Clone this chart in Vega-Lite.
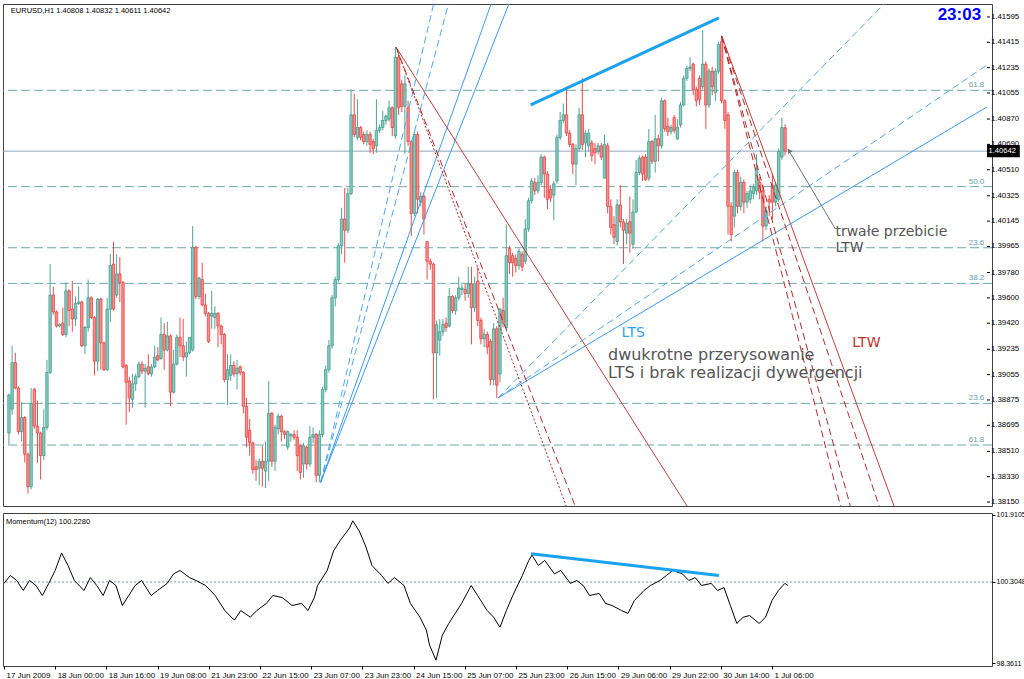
{
"$schema": "https://vega.github.io/schema/vega-lite/v6.json",
"padding": {"left": 2, "top": 3, "right": 0, "bottom": 0},
"background": "#ffffff",
"spacing": 3,
"config": {"view": {"stroke": "#404040", "strokeWidth": 1}, "font": "Liberation Sans", "axis": {"labelOverlap": false, "labelFlush": false, "grid": false, "title": null}},
"datasets": {
"candles": [
{"i":0,"o":1.3864,"h":1.3892,"l":1.3856,"c":1.3891},{"i":1,"o":1.3881,"h":1.3926,"l":1.3877,"c":1.3914},{"i":2,"o":1.3914,"h":1.3921,"l":1.3895,"c":1.3896},{"i":3,"o":1.3896,"h":1.3897,"l":1.3863,"c":1.3865},{"i":4,"o":1.3865,"h":1.3886,"l":1.3858,"c":1.3875},{"i":5,"o":1.3875,"h":1.3876,"l":1.3843,"c":1.3849},{"i":6,"o":1.3849,"h":1.385,"l":1.3821,"c":1.3826},{"i":7,"o":1.3826,"h":1.3896,"l":1.3824,"c":1.3885},{"i":8,"o":1.3895,"h":1.3896,"l":1.3867,"c":1.3869},{"i":9,"o":1.3869,"h":1.3887,"l":1.3843,"c":1.3864},
{"i":10,"o":1.3864,"h":1.3865,"l":1.3831,"c":1.3848},{"i":11,"o":1.3848,"h":1.3881,"l":1.3845,"c":1.3868},{"i":12,"o":1.3868,"h":1.3916,"l":1.3866,"c":1.3907},{"i":13,"o":1.3907,"h":1.3984,"l":1.3906,"c":1.3962},{"i":14,"o":1.3962,"h":1.3968,"l":1.3948,"c":1.395},{"i":15,"o":1.395,"h":1.3951,"l":1.3939,"c":1.394},{"i":16,"o":1.394,"h":1.3942,"l":1.3939,"c":1.3941},{"i":17,"o":1.3942,"h":1.3953,"l":1.3933,"c":1.3934},{"i":18,"o":1.3934,"h":1.3971,"l":1.3932,"c":1.3965},{"i":19,"o":1.3965,"h":1.3966,"l":1.394,"c":1.3951},
{"i":20,"o":1.3952,"h":1.3972,"l":1.3936,"c":1.3945},{"i":21,"o":1.3945,"h":1.3961,"l":1.394,"c":1.3956},{"i":22,"o":1.3956,"h":1.3968,"l":1.3955,"c":1.3957},{"i":23,"o":1.3957,"h":1.3958,"l":1.3925,"c":1.3926},{"i":24,"o":1.3926,"h":1.394,"l":1.392,"c":1.3939},{"i":25,"o":1.3939,"h":1.3973,"l":1.3936,"c":1.396},{"i":26,"o":1.396,"h":1.3961,"l":1.3945,"c":1.3946},{"i":27,"o":1.3946,"h":1.3947,"l":1.3905,"c":1.3915},{"i":28,"o":1.3915,"h":1.396,"l":1.3908,"c":1.3959},{"i":29,"o":1.3959,"h":1.396,"l":1.3909,"c":1.3928},
{"i":30,"o":1.3928,"h":1.3929,"l":1.3908,"c":1.3909},{"i":31,"o":1.3909,"h":1.396,"l":1.3908,"c":1.3952},{"i":32,"o":1.3952,"h":1.3991,"l":1.3943,"c":1.3983},{"i":33,"o":1.3984,"h":1.4,"l":1.3951,"c":1.3952},{"i":34,"o":1.3962,"h":1.3991,"l":1.396,"c":1.3977},{"i":35,"o":1.3977,"h":1.3989,"l":1.3957,"c":1.3971},{"i":36,"o":1.3971,"h":1.3972,"l":1.391,"c":1.3911},{"i":37,"o":1.3912,"h":1.3913,"l":1.387,"c":1.39},{"i":38,"o":1.3901,"h":1.3904,"l":1.3879,"c":1.3889},{"i":39,"o":1.3888,"h":1.3906,"l":1.3882,"c":1.3899},
{"i":40,"o":1.3899,"h":1.3906,"l":1.3894,"c":1.3904},{"i":41,"o":1.3904,"h":1.3915,"l":1.3903,"c":1.3913},{"i":42,"o":1.3913,"h":1.3915,"l":1.3906,"c":1.3908},{"i":43,"o":1.3908,"h":1.3913,"l":1.3882,"c":1.391},{"i":44,"o":1.3911,"h":1.392,"l":1.3905,"c":1.3906},{"i":45,"o":1.3906,"h":1.3913,"l":1.3904,"c":1.3911},{"i":46,"o":1.3911,"h":1.3926,"l":1.391,"c":1.3918},{"i":47,"o":1.3919,"h":1.3925,"l":1.3915,"c":1.3916},{"i":48,"o":1.3917,"h":1.3946,"l":1.3916,"c":1.3934},{"i":49,"o":1.3934,"h":1.3942,"l":1.3909,"c":1.3923},
{"i":50,"o":1.3923,"h":1.3943,"l":1.3922,"c":1.3933},{"i":51,"o":1.3933,"h":1.3934,"l":1.3883,"c":1.3893},{"i":52,"o":1.3893,"h":1.3923,"l":1.3892,"c":1.3913},{"i":53,"o":1.3913,"h":1.3934,"l":1.3912,"c":1.3932},{"i":54,"o":1.3932,"h":1.3946,"l":1.3918,"c":1.3926},{"i":55,"o":1.3926,"h":1.3945,"l":1.3915,"c":1.3918},{"i":56,"o":1.3918,"h":1.3929,"l":1.3904,"c":1.3921},{"i":57,"o":1.3921,"h":1.3932,"l":1.392,"c":1.3932},{"i":58,"o":1.3923,"h":1.4011,"l":1.3922,"c":1.3996},{"i":59,"o":1.3996,"h":1.3997,"l":1.3959,"c":1.3961},
{"i":60,"o":1.3961,"h":1.3975,"l":1.3959,"c":1.3974},{"i":61,"o":1.3973,"h":1.3985,"l":1.3954,"c":1.3955},{"i":62,"o":1.3955,"h":1.3963,"l":1.3947,"c":1.3949},{"i":63,"o":1.3949,"h":1.395,"l":1.3928,"c":1.3929},{"i":64,"o":1.3947,"h":1.3965,"l":1.3938,"c":1.3949},{"i":65,"o":1.3946,"h":1.3954,"l":1.3938,"c":1.3949},{"i":66,"o":1.3949,"h":1.395,"l":1.3925,"c":1.394},{"i":67,"o":1.394,"h":1.3941,"l":1.3927,"c":1.3934},{"i":68,"o":1.3934,"h":1.3935,"l":1.39,"c":1.3902},{"i":69,"o":1.3902,"h":1.392,"l":1.3884,"c":1.3909},
{"i":70,"o":1.3905,"h":1.392,"l":1.3901,"c":1.3912},{"i":71,"o":1.3912,"h":1.3915,"l":1.3904,"c":1.3906},{"i":72,"o":1.3906,"h":1.3916,"l":1.3895,"c":1.391},{"i":73,"o":1.3911,"h":1.3912,"l":1.3905,"c":1.3907},{"i":74,"o":1.3907,"h":1.3908,"l":1.3878,"c":1.3883},{"i":75,"o":1.3883,"h":1.3889,"l":1.3854,"c":1.3861},{"i":76,"o":1.3866,"h":1.3874,"l":1.3848,"c":1.3857},{"i":77,"o":1.3857,"h":1.3858,"l":1.3835,"c":1.3838},{"i":78,"o":1.384,"h":1.3845,"l":1.383,"c":1.3838},{"i":79,"o":1.3839,"h":1.3846,"l":1.3827,"c":1.3844},
{"i":80,"o":1.3844,"h":1.3855,"l":1.3826,"c":1.3839},{"i":81,"o":1.3837,"h":1.3858,"l":1.3825,"c":1.3844},{"i":82,"o":1.3844,"h":1.3901,"l":1.383,"c":1.3878},{"i":83,"o":1.3878,"h":1.3879,"l":1.384,"c":1.3844},{"i":84,"o":1.3844,"h":1.387,"l":1.3837,"c":1.3868},{"i":85,"o":1.3867,"h":1.3878,"l":1.3863,"c":1.3876},{"i":86,"o":1.3876,"h":1.3877,"l":1.3858,"c":1.3865},{"i":87,"o":1.3865,"h":1.3866,"l":1.386,"c":1.3863},{"i":88,"o":1.3854,"h":1.3866,"l":1.3852,"c":1.3865},{"i":89,"o":1.3862,"h":1.3864,"l":1.3858,"c":1.3863},
{"i":90,"o":1.3863,"h":1.3866,"l":1.3859,"c":1.3861},{"i":91,"o":1.3861,"h":1.3866,"l":1.3837,"c":1.3848},{"i":92,"o":1.3855,"h":1.3856,"l":1.3831,"c":1.3836},{"i":93,"o":1.3842,"h":1.3857,"l":1.3832,"c":1.3855},{"i":94,"o":1.3854,"h":1.3855,"l":1.3838,"c":1.3842},{"i":95,"o":1.3842,"h":1.3869,"l":1.384,"c":1.3861},{"i":96,"o":1.3861,"h":1.3868,"l":1.3857,"c":1.3863},{"i":97,"o":1.3863,"h":1.3864,"l":1.3829,"c":1.3834},{"i":98,"o":1.3834,"h":1.3866,"l":1.3829,"c":1.3863},{"i":99,"o":1.3863,"h":1.3897,"l":1.3861,"c":1.3895},
{"i":100,"o":1.3895,"h":1.3912,"l":1.3893,"c":1.3909},{"i":101,"o":1.3909,"h":1.393,"l":1.3907,"c":1.3926},{"i":102,"o":1.3926,"h":1.3962,"l":1.3924,"c":1.396},{"i":103,"o":1.396,"h":1.3975,"l":1.3954,"c":1.3973},{"i":104,"o":1.3973,"h":1.3999,"l":1.3971,"c":1.3997},{"i":105,"o":1.3997,"h":1.4024,"l":1.3991,"c":1.4016},{"i":106,"o":1.4016,"h":1.4038,"l":1.3985,"c":1.4008},{"i":107,"o":1.4008,"h":1.4038,"l":1.4006,"c":1.4034},{"i":108,"o":1.4034,"h":1.4108,"l":1.4033,"c":1.409},{"i":109,"o":1.409,"h":1.4105,"l":1.4074,"c":1.4076},
{"i":110,"o":1.4074,"h":1.4101,"l":1.4072,"c":1.4081},{"i":111,"o":1.4081,"h":1.4082,"l":1.4072,"c":1.4074},{"i":112,"o":1.4076,"h":1.4078,"l":1.4069,"c":1.4071},{"i":113,"o":1.4071,"h":1.4079,"l":1.4068,"c":1.4076},{"i":114,"o":1.4076,"h":1.4078,"l":1.4063,"c":1.4069},{"i":115,"o":1.4071,"h":1.4073,"l":1.4062,"c":1.4066},{"i":116,"o":1.4068,"h":1.4101,"l":1.4063,"c":1.4079},{"i":117,"o":1.4079,"h":1.4083,"l":1.4077,"c":1.4081},{"i":118,"o":1.4081,"h":1.4093,"l":1.4079,"c":1.4086},{"i":119,"o":1.4086,"h":1.409,"l":1.4083,"c":1.4089},
{"i":120,"o":1.4087,"h":1.41,"l":1.4085,"c":1.4095},{"i":121,"o":1.4095,"h":1.4096,"l":1.4075,"c":1.4081},{"i":122,"o":1.4075,"h":1.4138,"l":1.4073,"c":1.4131},{"i":123,"o":1.4131,"h":1.4133,"l":1.409,"c":1.4095},{"i":124,"o":1.4112,"h":1.4115,"l":1.4092,"c":1.4096},{"i":125,"o":1.4096,"h":1.4118,"l":1.4062,"c":1.4112},{"i":126,"o":1.4095,"h":1.41,"l":1.4068,"c":1.4071},{"i":127,"o":1.4071,"h":1.4072,"l":1.4004,"c":1.402},{"i":128,"o":1.402,"h":1.4078,"l":1.4018,"c":1.4076},{"i":129,"o":1.4076,"h":1.4078,"l":1.402,"c":1.403},
{"i":130,"o":1.4028,"h":1.4035,"l":1.4025,"c":1.4032},{"i":131,"o":1.4032,"h":1.4034,"l":1.4005,"c":1.4016},{"i":132,"o":1.4,"h":1.4,"l":1.3973,"c":1.3986},{"i":133,"o":1.3986,"h":1.3988,"l":1.398,"c":1.3984},{"i":134,"o":1.3984,"h":1.3985,"l":1.3888,"c":1.3921},{"i":135,"o":1.3921,"h":1.3944,"l":1.3889,"c":1.3941},{"i":136,"o":1.393,"h":1.3945,"l":1.3919,"c":1.3936},{"i":137,"o":1.3936,"h":1.3945,"l":1.3933,"c":1.3941},{"i":138,"o":1.3942,"h":1.3946,"l":1.3936,"c":1.3939},{"i":139,"o":1.394,"h":1.3967,"l":1.3939,"c":1.3961},
{"i":140,"o":1.3961,"h":1.3962,"l":1.3949,"c":1.3951},{"i":141,"o":1.3951,"h":1.3962,"l":1.3948,"c":1.396},{"i":142,"o":1.396,"h":1.3975,"l":1.3958,"c":1.3967},{"i":143,"o":1.3966,"h":1.3971,"l":1.3962,"c":1.3967},{"i":144,"o":1.3966,"h":1.397,"l":1.3958,"c":1.3963},{"i":145,"o":1.3963,"h":1.3982,"l":1.396,"c":1.397},{"i":146,"o":1.397,"h":1.3982,"l":1.3927,"c":1.3953},{"i":147,"o":1.3953,"h":1.3975,"l":1.395,"c":1.397},{"i":148,"o":1.3972,"h":1.3982,"l":1.394,"c":1.3944},{"i":149,"o":1.3944,"h":1.3946,"l":1.3927,"c":1.3931},
{"i":150,"o":1.3931,"h":1.3938,"l":1.3925,"c":1.3934},{"i":151,"o":1.3934,"h":1.3936,"l":1.392,"c":1.3925},{"i":152,"o":1.3929,"h":1.3931,"l":1.3898,"c":1.3902},{"i":153,"o":1.3902,"h":1.3942,"l":1.3898,"c":1.3938},{"i":154,"o":1.3938,"h":1.394,"l":1.3889,"c":1.3898},{"i":155,"o":1.3906,"h":1.3953,"l":1.39,"c":1.3952},{"i":156,"o":1.3951,"h":1.396,"l":1.3939,"c":1.3942},{"i":157,"o":1.3939,"h":1.4012,"l":1.3936,"c":1.399},{"i":158,"o":1.3995,"h":1.3997,"l":1.3977,"c":1.3985},{"i":159,"o":1.399,"h":1.3992,"l":1.3975,"c":1.3985},
{"i":160,"o":1.3988,"h":1.3991,"l":1.3978,"c":1.3983},{"i":161,"o":1.3983,"h":1.3995,"l":1.398,"c":1.3993},{"i":162,"o":1.3991,"h":1.3993,"l":1.3979,"c":1.3982},{"i":163,"o":1.3986,"h":1.4016,"l":1.3984,"c":1.4009},{"i":164,"o":1.4009,"h":1.4031,"l":1.4007,"c":1.4029},{"i":165,"o":1.4029,"h":1.4045,"l":1.4027,"c":1.4043},{"i":166,"o":1.4042,"h":1.4045,"l":1.4033,"c":1.4036},{"i":167,"o":1.4036,"h":1.4047,"l":1.4034,"c":1.4042},{"i":168,"o":1.4042,"h":1.4062,"l":1.404,"c":1.406},{"i":169,"o":1.406,"h":1.4061,"l":1.4031,"c":1.4048},
{"i":170,"o":1.4048,"h":1.405,"l":1.4023,"c":1.403},{"i":171,"o":1.4037,"h":1.404,"l":1.4028,"c":1.4031},{"i":172,"o":1.4033,"h":1.4043,"l":1.4015,"c":1.4041},{"i":173,"o":1.4043,"h":1.4076,"l":1.4041,"c":1.4074},{"i":174,"o":1.4074,"h":1.4092,"l":1.4072,"c":1.4086},{"i":175,"o":1.4086,"h":1.4098,"l":1.4084,"c":1.409},{"i":176,"o":1.409,"h":1.4108,"l":1.4075,"c":1.4077},{"i":177,"o":1.4077,"h":1.4079,"l":1.4067,"c":1.4069},{"i":178,"o":1.4069,"h":1.407,"l":1.4048,"c":1.4055},{"i":179,"o":1.4055,"h":1.4069,"l":1.404,"c":1.4066},
{"i":180,"o":1.4066,"h":1.4095,"l":1.4064,"c":1.409},{"i":181,"o":1.409,"h":1.4116,"l":1.4065,"c":1.4069},{"i":182,"o":1.407,"h":1.4079,"l":1.406,"c":1.4077},{"i":183,"o":1.4068,"h":1.408,"l":1.4064,"c":1.4077},{"i":184,"o":1.407,"h":1.4072,"l":1.4057,"c":1.4061},{"i":185,"o":1.4066,"h":1.407,"l":1.4055,"c":1.4063},{"i":186,"o":1.4064,"h":1.407,"l":1.4062,"c":1.4068},{"i":187,"o":1.4068,"h":1.407,"l":1.4058,"c":1.406},{"i":188,"o":1.4045,"h":1.4076,"l":1.4045,"c":1.4069},{"i":189,"o":1.4068,"h":1.407,"l":1.402,"c":1.4025},
{"i":190,"o":1.4025,"h":1.403,"l":1.4005,"c":1.401},{"i":191,"o":1.4012,"h":1.4018,"l":1.3998,"c":1.4003},{"i":192,"o":1.4,"h":1.403,"l":1.3997,"c":1.4026},{"i":193,"o":1.4026,"h":1.404,"l":1.401,"c":1.4014},{"i":194,"o":1.4014,"h":1.4016,"l":1.3984,"c":1.4008},{"i":195,"o":1.4006,"h":1.4016,"l":1.3998,"c":1.4013},{"i":196,"o":1.4014,"h":1.4032,"l":1.3992,"c":1.4006},{"i":197,"o":1.3998,"h":1.403,"l":1.3995,"c":1.4021},{"i":198,"o":1.4021,"h":1.4058,"l":1.402,"c":1.4049},{"i":199,"o":1.4049,"h":1.4061,"l":1.4047,"c":1.4059},
{"i":200,"o":1.406,"h":1.4061,"l":1.4043,"c":1.4048},{"i":201,"o":1.406,"h":1.4062,"l":1.4043,"c":1.4044},{"i":202,"o":1.4045,"h":1.408,"l":1.4043,"c":1.4071},{"i":203,"o":1.4071,"h":1.4072,"l":1.4055,"c":1.4057},{"i":204,"o":1.4057,"h":1.409,"l":1.4049,"c":1.4073},{"i":205,"o":1.4073,"h":1.4076,"l":1.4057,"c":1.4068},{"i":206,"o":1.4068,"h":1.4102,"l":1.4066,"c":1.41},{"i":207,"o":1.41,"h":1.4101,"l":1.4078,"c":1.408},{"i":208,"o":1.4082,"h":1.4088,"l":1.4075,"c":1.4078},{"i":209,"o":1.4078,"h":1.4083,"l":1.4076,"c":1.4081},
{"i":210,"o":1.4088,"h":1.409,"l":1.4077,"c":1.4079},{"i":211,"o":1.4073,"h":1.4087,"l":1.4072,"c":1.4081},{"i":212,"o":1.4083,"h":1.4099,"l":1.4081,"c":1.4097},{"i":213,"o":1.4097,"h":1.4118,"l":1.4096,"c":1.4116},{"i":214,"o":1.4116,"h":1.4125,"l":1.4114,"c":1.4123},{"i":215,"o":1.4123,"h":1.4131,"l":1.4121,"c":1.4124},{"i":216,"o":1.4126,"h":1.4127,"l":1.4104,"c":1.4108},{"i":217,"o":1.4108,"h":1.411,"l":1.4096,"c":1.41},{"i":218,"o":1.4116,"h":1.4118,"l":1.4097,"c":1.4101},{"i":219,"o":1.411,"h":1.415,"l":1.4108,"c":1.4126},
{"i":220,"o":1.4126,"h":1.4128,"l":1.408,"c":1.4097},{"i":221,"o":1.4097,"h":1.4123,"l":1.4095,"c":1.4121},{"i":222,"o":1.4121,"h":1.4124,"l":1.4104,"c":1.411},{"i":223,"o":1.4106,"h":1.4123,"l":1.41,"c":1.4121},{"i":224,"o":1.4121,"h":1.4142,"l":1.4119,"c":1.414},{"i":225,"o":1.4142,"h":1.4146,"l":1.4098,"c":1.41},{"i":226,"o":1.41,"h":1.4101,"l":1.408,"c":1.4086},{"i":227,"o":1.409,"h":1.4092,"l":1.4005,"c":1.4025},{"i":228,"o":1.4025,"h":1.4028,"l":1.4,"c":1.4005},{"i":229,"o":1.4018,"h":1.4051,"l":1.401,"c":1.4049},
{"i":230,"o":1.4049,"h":1.4051,"l":1.402,"c":1.4025},{"i":231,"o":1.4025,"h":1.4046,"l":1.4022,"c":1.4042},{"i":232,"o":1.4042,"h":1.4044,"l":1.402,"c":1.4028},{"i":233,"o":1.4028,"h":1.4036,"l":1.4024,"c":1.4034},{"i":234,"o":1.403,"h":1.404,"l":1.4027,"c":1.4036},{"i":235,"o":1.4034,"h":1.4041,"l":1.403,"c":1.4039},{"i":236,"o":1.4036,"h":1.4062,"l":1.4033,"c":1.4052},{"i":237,"o":1.4042,"h":1.4046,"l":1.403,"c":1.4035},{"i":238,"o":1.4036,"h":1.404,"l":1.4,"c":1.4011},{"i":239,"o":1.4011,"h":1.4025,"l":1.4008,"c":1.4022},
{"i":240,"o":1.403,"h":1.4033,"l":1.4018,"c":1.4028},{"i":241,"o":1.404,"h":1.4048,"l":1.4016,"c":1.4028},{"i":242,"o":1.4028,"h":1.4042,"l":1.4025,"c":1.404},{"i":243,"o":1.403,"h":1.4066,"l":1.4028,"c":1.4064},{"i":244,"o":1.406,"h":1.4088,"l":1.4058,"c":1.4081},{"i":245,"o":1.40808,"h":1.40832,"l":1.40611,"c":1.40642}
],
"mom": [
{"i":0,"m":100.27},{"i":2,"m":100.46},{"i":4,"m":100.34},{"i":6,"m":100.1},{"i":8,"m":100.34},{"i":10,"m":100.22},{"i":12,"m":99.98},{"i":14,"m":100.27},{"i":16,"m":100.58},{"i":18,"m":101.0},{"i":20,"m":100.7},{"i":22,"m":100.34},{"i":25,"m":100.1},{"i":27,"m":100.41},{"i":29,"m":100.22},{"i":31,"m":99.98},{"i":33,"m":100.34},{"i":35,"m":100.22},{"i":37,"m":99.74},{"i":39,"m":99.98},{"i":41,"m":100.22},{"i":43,"m":100.34},{"i":46,"m":99.98},{"i":48,"m":100.1},{"i":51,"m":100.27},{"i":53,"m":100.5},{"i":55,"m":100.58},{"i":58,"m":100.41},{"i":60,"m":100.34},{"i":63,"m":100.22},{"i":66,"m":99.98},{"i":69,"m":99.62},{"i":72,"m":99.39},{"i":74,"m":99.62},{"i":77,"m":99.46},{"i":79,"m":99.62},{"i":82,"m":99.79},{"i":84,"m":99.98},{"i":87,"m":99.93},{"i":90,"m":99.74},{"i":93,"m":99.79},{"i":95,"m":99.62},{"i":97,"m":99.93},{"i":98,"m":100.22},{"i":101,"m":100.58},{"i":103,"m":101.05},{"i":105,"m":101.29},{"i":108,"m":101.6},{"i":109,"m":101.77},{"i":111,"m":101.53},{"i":113,"m":101.17},{"i":115,"m":100.7},{"i":118,"m":100.46},{"i":120,"m":100.27},{"i":122,"m":100.41},{"i":125,"m":100.22},{"i":127,"m":99.79},{"i":130,"m":99.46},{"i":132,"m":99.15},{"i":133,"m":98.79},{"i":135,"m":98.43},{"i":137,"m":99.03},{"i":139,"m":99.31},{"i":141,"m":99.55},{"i":143,"m":99.79},{"i":146,"m":100.22},{"i":148,"m":99.98},{"i":151,"m":99.62},{"i":153,"m":99.46},{"i":155,"m":99.22},{"i":157,"m":99.62},{"i":159,"m":99.98},{"i":162,"m":100.46},{"i":164,"m":100.82},{"i":165,"m":100.95},{"i":167,"m":100.7},{"i":169,"m":100.82},{"i":172,"m":100.5},{"i":174,"m":100.58},{"i":177,"m":100.27},{"i":179,"m":100.34},{"i":181,"m":100.22},{"i":183,"m":99.98},{"i":186,"m":100.03},{"i":188,"m":99.79},{"i":190,"m":99.74},{"i":193,"m":99.62},{"i":195,"m":99.55},{"i":197,"m":99.86},{"i":200,"m":100.1},{"i":202,"m":100.22},{"i":205,"m":100.34},{"i":207,"m":100.46},{"i":209,"m":100.58},{"i":212,"m":100.5},{"i":214,"m":100.34},{"i":216,"m":100.41},{"i":218,"m":100.22},{"i":221,"m":100.27},{"i":223,"m":100.1},{"i":225,"m":100.17},{"i":227,"m":99.74},{"i":229,"m":99.31},{"i":231,"m":99.46},{"i":233,"m":99.5},{"i":236,"m":99.31},{"i":238,"m":99.46},{"i":240,"m":99.86},{"i":242,"m":100.1},{"i":244,"m":100.27},{"i":245,"m":100.22}
],
"lines": [
{"id":"f1a","g":"lts_dash","i":98.4,"p":1.3829},{"id":"f1a","g":"lts_dash","i":134.06,"p":1.41687},
{"id":"f1b","g":"lts_dash","i":98.4,"p":1.3829},{"id":"f1b","g":"lts_dash","i":138.75,"p":1.41687},
{"id":"f1c","g":"lts_solid","i":98.4,"p":1.3829},{"id":"f1c","g":"lts_solid","i":152.2,"p":1.41687},
{"id":"f1d","g":"lts_solid","i":98.4,"p":1.3829},{"id":"f1d","g":"lts_solid","i":157.8,"p":1.41687},
{"id":"f2a","g":"lts_dash","i":154.4,"p":1.3889},{"id":"f2a","g":"lts_dash","i":276.25,"p":1.41687},
{"id":"f2b","g":"lts_dash","i":154.4,"p":1.3889},{"id":"f2b","g":"lts_dash","i":308.75,"p":1.41254},
{"id":"f2c","g":"lts_solid","i":154.4,"p":1.3889},{"id":"f2c","g":"lts_solid","i":308.75,"p":1.40956},
{"id":"w1","g":"ltw_solid","i":122.2,"p":1.4138},{"id":"w1","g":"ltw_solid","i":214.06,"p":1.38122},
{"id":"w2","g":"ltw_dash","i":122.2,"p":1.4138},{"id":"w2","g":"ltw_dash","i":178.75,"p":1.38122},
{"id":"w3","g":"ltw_dot","i":122.2,"p":1.4138},{"id":"w3","g":"ltw_dot","i":175.9,"p":1.38122},
{"id":"w4","g":"ltw_dash","i":225,"p":1.4146},{"id":"w4","g":"ltw_dash","i":262.5,"p":1.38122},
{"id":"w5","g":"ltw_dash","i":225,"p":1.4146},{"id":"w5","g":"ltw_dash","i":265.6,"p":1.38122},
{"id":"w6","g":"ltw_dash","i":225,"p":1.4146},{"id":"w6","g":"ltw_dash","i":274.7,"p":1.38122},
{"id":"w7","g":"ltw_solid","i":225,"p":1.4146},{"id":"w7","g":"ltw_solid","i":279.4,"p":1.38122},
{"id":"t1","g":"thick","i":164.7,"p":1.4097},{"id":"t1","g":"thick","i":224.1,"p":1.41588},
{"id":"a1","g":"arrow","i":260.9,"p":1.40089},{"id":"a1","g":"arrow","i":245.9,"p":1.40657}
],
"fib": [
{"p":1.41074,"lab":"61.8"},{"p":1.4039,"lab":"50.0"},{"p":1.39956,"lab":"23.6"},{"p":1.39703,"lab":"38.2"},{"p":1.38851,"lab":"23.6"},{"p":1.38555,"lab":"61.8"}
],
"pticks": [
{"v":1.41595},{"v":1.41415},{"v":1.41235},{"v":1.41055},{"v":1.4087},{"v":1.4069},{"v":1.4051},{"v":1.40325},{"v":1.40145},{"v":1.39965},{"v":1.3978},{"v":1.396},{"v":1.3942},{"v":1.39235},{"v":1.39055},{"v":1.38875},{"v":1.38695},{"v":1.3851},{"v":1.3833},{"v":1.3815}
]
},
"vconcat": [
{
"width": 989, "height": 502,
"layer": [
{"data": {"name": "fib"}, "mark": {"type": "rule", "color": "#6ea8a8", "strokeDash": [9, 4], "strokeWidth": 1},
 "encoding": {"y": {"field": "p", "type": "quantitative", "scale": {"domain": [1.38122, 1.41687], "nice": false, "zero": false}, "axis": null}}},
{"data": {"name": "fib"}, "mark": {"type": "text", "color": "#5f9ea0", "fontSize": 8, "align": "right", "baseline": "bottom", "dy": -1},
 "encoding": {"y": {"field": "p", "type": "quantitative", "axis": null}, "x": {"datum": 307.9, "type": "quantitative", "axis": null}, "text": {"field": "lab"}}},
{"data": {"values": [{"p": 1.40642}]}, "mark": {"type": "rule", "color": "#90a4b8", "strokeWidth": 1},
 "encoding": {"y": {"field": "p", "type": "quantitative", "axis": null}}},
{"data": {"name": "candles"}, "mark": {"type": "rule", "strokeWidth": 1},
 "encoding": {"x": {"field": "i", "type": "quantitative", "scale": {"domain": [-0.3, 308.75], "nice": false, "zero": false}, "axis": null},
  "y": {"field": "l", "type": "quantitative", "axis": null}, "y2": {"field": "h"},
  "color": {"condition": {"test": "datum.c >= datum.o", "value": "#4da595"}, "value": "#ec4a4a"}}},
{"data": {"name": "candles"}, "mark": {"type": "bar", "size": 2.4, "strokeWidth": 0.8},
 "encoding": {"x": {"field": "i", "type": "quantitative", "axis": null},
  "y": {"field": "o", "type": "quantitative", "axis": null}, "y2": {"field": "c"},
  "fill": {"condition": {"test": "datum.c >= datum.o", "value": "#8ccabd"}, "value": "#f78f8f"},
  "stroke": {"condition": {"test": "datum.c >= datum.o", "value": "#3f9d8e"}, "value": "#e84444"}}},
{"data": {"name": "lines"}, "transform": [{"filter": "datum.g == 'lts_dash'"}], "mark": {"type": "line", "clip": true, "color": "#4ea6f5", "strokeWidth": 1, "strokeDash": [7, 4]},
 "encoding": {"x": {"field": "i", "type": "quantitative", "axis": null}, "y": {"field": "p", "type": "quantitative", "axis": null}, "detail": {"field": "id"}}},
{"data": {"name": "lines"}, "transform": [{"filter": "datum.g == 'lts_solid'"}], "mark": {"type": "line", "clip": true, "color": "#3d9af2", "strokeWidth": 1},
 "encoding": {"x": {"field": "i", "type": "quantitative", "axis": null}, "y": {"field": "p", "type": "quantitative", "axis": null}, "detail": {"field": "id"}}},
{"data": {"name": "lines"}, "transform": [{"filter": "datum.g == 'ltw_solid'"}], "mark": {"type": "line", "clip": true, "color": "#c0403a", "strokeWidth": 1},
 "encoding": {"x": {"field": "i", "type": "quantitative", "axis": null}, "y": {"field": "p", "type": "quantitative", "axis": null}, "detail": {"field": "id"}}},
{"data": {"name": "lines"}, "transform": [{"filter": "datum.g == 'ltw_dash'"}], "mark": {"type": "line", "clip": true, "color": "#b22a2a", "strokeWidth": 1, "strokeDash": [7, 4]},
 "encoding": {"x": {"field": "i", "type": "quantitative", "axis": null}, "y": {"field": "p", "type": "quantitative", "axis": null}, "detail": {"field": "id"}}},
{"data": {"name": "lines"}, "transform": [{"filter": "datum.g == 'ltw_dot'"}], "mark": {"type": "line", "clip": true, "color": "#b22a2a", "strokeWidth": 1, "strokeDash": [2, 2]},
 "encoding": {"x": {"field": "i", "type": "quantitative", "axis": null}, "y": {"field": "p", "type": "quantitative", "axis": null}, "detail": {"field": "id"}}},
{"data": {"name": "lines"}, "transform": [{"filter": "datum.g == 'thick'"}], "mark": {"type": "line", "clip": true, "color": "#18a2f0", "strokeWidth": 3},
 "encoding": {"x": {"field": "i", "type": "quantitative", "axis": null}, "y": {"field": "p", "type": "quantitative", "axis": null}, "detail": {"field": "id"}}},
{"data": {"name": "lines"}, "transform": [{"filter": "datum.g == 'arrow'"}], "mark": {"type": "line", "clip": true, "color": "#707070", "strokeWidth": 1},
 "encoding": {"x": {"field": "i", "type": "quantitative", "axis": null}, "y": {"field": "p", "type": "quantitative", "axis": null}, "detail": {"field": "id"}}},
{"data": {"values": [{"i": 246.3, "p": 1.40645}]}, "mark": {"type": "point", "shape": "triangle-up", "angle": 329, "size": 28, "filled": true, "color": "#707070", "opacity": 1},
 "encoding": {"x": {"field": "i", "type": "quantitative", "axis": null}, "y": {"field": "p", "type": "quantitative", "axis": null}}},
{"data": {"values": [{"t": "LTS", "i": 193.4, "p": 1.3935}]}, "mark": {"type": "text", "font": "DejaVu Sans", "fontSize": 14, "color": "#2ea3f2", "align": "left", "baseline": "middle"},
 "encoding": {"x": {"field": "i", "type": "quantitative", "axis": null}, "y": {"field": "p", "type": "quantitative", "axis": null}, "text": {"field": "t"}}},
{"data": {"values": [{"t": "dwukrotne przerysowanie", "i": 189.1, "p": 1.39194}, {"t": "LTS i brak realizacji dywergencji", "i": 189.1, "p": 1.39066}]}, "mark": {"type": "text", "font": "DejaVu Sans", "fontSize": 16, "color": "#555555", "align": "left", "baseline": "middle"},
 "encoding": {"x": {"field": "i", "type": "quantitative", "axis": null}, "y": {"field": "p", "type": "quantitative", "axis": null}, "text": {"field": "t"}}},
{"data": {"values": [{"t": "trwałe przebicie", "i": 260.9, "p": 1.40068}, {"t": "LTW", "i": 260.9, "p": 1.39954}]}, "mark": {"type": "text", "font": "DejaVu Sans", "fontSize": 14, "color": "#555555", "align": "left", "baseline": "middle"},
 "encoding": {"x": {"field": "i", "type": "quantitative", "axis": null}, "y": {"field": "p", "type": "quantitative", "axis": null}, "text": {"field": "t"}}},
{"data": {"values": [{"t": "LTW", "i": 266.2, "p": 1.39279}]}, "mark": {"type": "text", "font": "DejaVu Sans", "fontSize": 14, "color": "#c0302c", "align": "left", "baseline": "middle"},
 "encoding": {"x": {"field": "i", "type": "quantitative", "axis": null}, "y": {"field": "p", "type": "quantitative", "axis": null}, "text": {"field": "t"}}},
{"data": {"values": [{"t": "EURUSD,H1  1.40808 1.40832 1.40611 1.40642", "i": 0.6, "p": 1.41638}]}, "mark": {"type": "text", "font": "Liberation Sans", "fontSize": 7.5, "color": "#000000", "align": "left", "baseline": "middle"},
 "encoding": {"x": {"field": "i", "type": "quantitative", "axis": null}, "y": {"field": "p", "type": "quantitative", "axis": null}, "text": {"field": "t"}}},
{"data": {"values": [{"t": "23:03", "i": 306.9, "p": 1.41609}]}, "mark": {"type": "text", "font": "Liberation Sans", "fontSize": 17, "fontWeight": "bold", "color": "#0000ff", "align": "right", "baseline": "middle"},
 "encoding": {"x": {"field": "i", "type": "quantitative", "axis": null}, "y": {"field": "p", "type": "quantitative", "axis": null}, "text": {"field": "t"}}},
{"data": {"name": "pticks"}, "mark": {"type": "rule", "color": "#000000", "strokeWidth": 1},
 "encoding": {"x": {"datum": 308.75, "type": "quantitative", "axis": null}, "x2": {"datum": 309.7}, "y": {"field": "v", "type": "quantitative", "axis": null}}},
{"data": {"name": "pticks"}, "mark": {"type": "text", "font": "Liberation Sans", "fontSize": 7.8, "color": "#000000", "align": "left", "baseline": "middle", "dx": 4},
 "encoding": {"x": {"datum": 308.75, "type": "quantitative", "axis": null}, "y": {"field": "v", "type": "quantitative", "axis": null}, "text": {"field": "v", "type": "quantitative", "format": ".5f"}}},
{"data": {"values": [{"i": 308.75, "i2": 319.1, "p": 1.40685, "p2": 1.40599}]}, "mark": {"type": "rect", "color": "#000000"},
 "encoding": {"x": {"field": "i", "type": "quantitative", "axis": null}, "x2": {"field": "i2"}, "y": {"field": "p", "type": "quantitative", "axis": null}, "y2": {"field": "p2"}}},
{"data": {"values": [{"t": "1.40642", "i": 309.2, "p": 1.40642}]}, "mark": {"type": "text", "font": "Liberation Sans", "fontSize": 7.6, "color": "#ffffff", "align": "left", "baseline": "middle"},
 "encoding": {"x": {"field": "i", "type": "quantitative", "axis": null}, "y": {"field": "p", "type": "quantitative", "axis": null}, "text": {"field": "t"}}}
]
},
{
"width": 989, "height": 153,
"layer": [
{"data": {"values": [{"m": 100.3048}]}, "mark": {"type": "rule", "color": "#8a9aaa", "strokeDash": [2, 2], "strokeWidth": 1},
 "encoding": {"y": {"field": "m", "type": "quantitative", "scale": {"domain": [98.29, 101.958], "nice": false, "zero": false},
  "axis": {"orient": "right", "title": null, "values": [101.9105, 100.3048, 98.3611], "format": ".4f", "labelFont": "Liberation Sans", "labelFontSize": 7, "labelColor": "#000", "tickColor": "#000", "tickSize": 3, "labelPadding": 1, "domain": false, "grid": false, "labelOverlap": false, "labelFlush": false}}}},
{"data": {"name": "mom"}, "mark": {"type": "line", "color": "#000000", "strokeWidth": 1, "clip": true},
 "encoding": {"x": {"field": "i", "type": "quantitative", "scale": {"domain": [-0.3, 308.75], "nice": false, "zero": false},
  "axis": {"title": null, "values": [0,16,32,48,64,80,96,112,128,144,160,176,192,208,224,240], "labelExpr": "['17 Jun 2009','18 Jun 00:00','18 Jun 16:00','19 Jun 08:00','21 Jun 23:00','22 Jun 15:00','23 Jun 07:00','23 Jun 23:00','24 Jun 15:00','25 Jun 07:00','25 Jun 23:00','26 Jun 15:00','29 Jun 06:00','29 Jun 22:00','30 Jun 14:00','1 Jul 06:00'][round(datum.value/16)]", "labelAlign": "left", "labelBaseline": "top", "labelOffset": 2, "labelPadding": 2, "labelFont": "Liberation Sans", "labelFontSize": 8, "labelColor": "#000", "tickColor": "#000", "tickSize": 3, "domain": false, "grid": false, "labelOverlap": false, "labelFlush": false}},
  "y": {"field": "m", "type": "quantitative"}}},
{"data": {"values": [{"i": 164.7, "m": 100.98}, {"i": 223.4, "m": 100.46}]}, "mark": {"type": "line", "color": "#18a2f0", "strokeWidth": 3, "clip": true},
 "encoding": {"x": {"field": "i", "type": "quantitative"}, "y": {"field": "m", "type": "quantitative"}}},
{"data": {"values": [{"t": "Momentum(12) 100.2280", "i": 0.6, "m": 101.744}]}, "mark": {"type": "text", "font": "Liberation Sans", "fontSize": 7.5, "color": "#000000", "align": "left", "baseline": "middle"},
 "encoding": {"x": {"field": "i", "type": "quantitative"}, "y": {"field": "m", "type": "quantitative"}, "text": {"field": "t"}}}
]
}
]
}
